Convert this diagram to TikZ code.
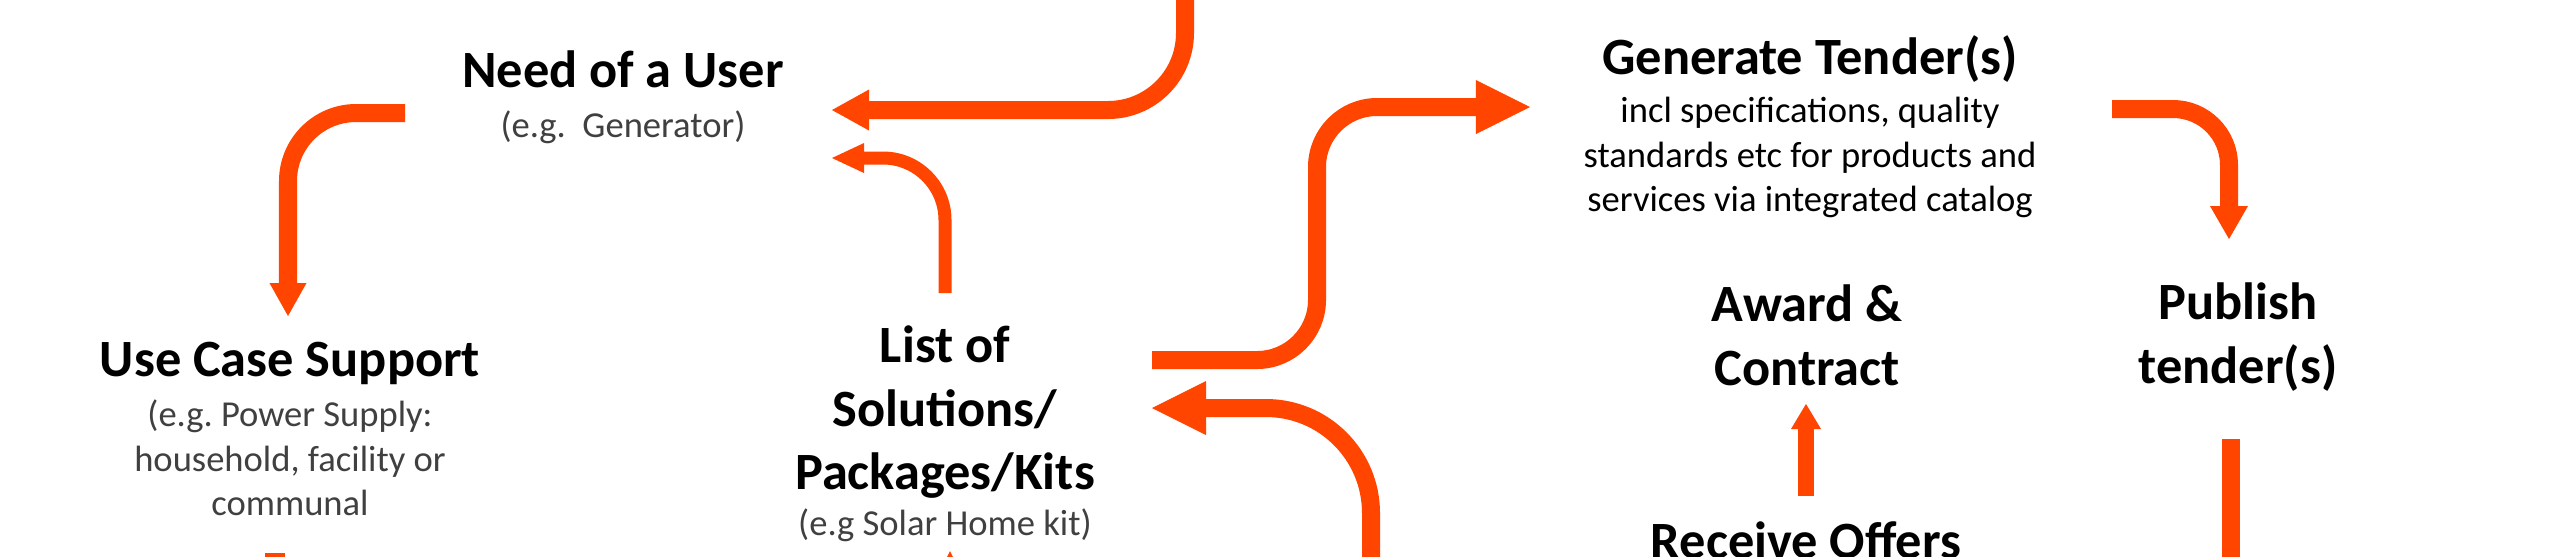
\documentclass[tikz,border=0pt]{standalone}
\usepackage{fontspec}
\setmainfont{Carlito}
\usetikzlibrary{arrows.meta}
\definecolor{flowred}{HTML}{FF4500}
\definecolor{notegray}{HTML}{404040}
\newcommand\headfont{\fontsize{14.9pt}{18.07pt}\selectfont\bfseries}
\newcommand\notefont{\fontsize{10.4pt}{12.66pt}\selectfont}

\begin{document}
\begin{tikzpicture}[x=0.01cm,y=-0.01cm,
  head/.style={font=\headfont,align=center,anchor=north,inner sep=0pt},
  note/.style={font=\notefont,text=notegray,align=center,anchor=north,inner sep=0pt},
  flow/.style={draw=flowred,line width=0.18cm}]
  \fill[white] (0,0) rectangle (2560,556);
  \useasboundingbox (0,0) rectangle (2560,556);
  \clip (0,0) rectangle (2560,556);
  % labels
  \node[head] (need) at (623,42.5) {\strut Need of a User};
  \node[note] (needx) at (623,105.9) {\strut(e.g.~~Generator)};
  \node[head] (usecase) at (290,331.5) {\strut Use Case Support};
  \node[note] (usecasex) at (290,394.9) {\strut(e.g.\ Power Supply:\\household, facility or\\communal};
  \node[head] (list) at (945,317.5) {\strut List of\\Solutions/\\Packages/Kits};
  \node[note] (listx) at (945,503.9) {\strut(e.g Solar Home kit)};
  \node[head] (tender) at (1810,29.5) {\strut Generate Tender(s)};
  \node[note,text=black] (tenderx) at (1810,90.9) {\strut incl specifications, quality\\standards etc for products and\\services via integrated catalog};
  \node[head] (award) at (1807,276.5) {\strut Award \&\\Contract};
  \node[head] (publish) at (2238,274.5) {\strut Publish\\tender(s)};
  \node[head] (offers) at (1806,513.5) {\strut Receive Offers};
  % arrow ends
  \coordinate (needL) at (405,113);
  \coordinate (usecaseT) at (288,316);
  \coordinate (topin) at (1185,-20);
  \coordinate (needR) at (832,110);
  \coordinate (listT) at (945,293);
  \coordinate (needR2) at (832,158);
  \coordinate (listR) at (1152,360);
  \coordinate (tenderL) at (1530,107);
  \coordinate (botin) at (1371,620);
  \coordinate (listR2) at (1152,408);
  \coordinate (offersT) at (1806,496);
  \coordinate (awardB) at (1806,404);
  \coordinate (tenderR) at (2112,109);
  \coordinate (publishT) at (2229,239);
  \coordinate (publishB) at (2231,439);
  \coordinate (usecaseB) at (275,553);
  \coordinate (listB) at (950,551);
  % arrows
  \draw[flow,rounded corners=0.68cm,-{Triangle[width=0.37cm,length=0.33cm,line width=0pt]}] (needL) -| (usecaseT);
  \draw[flow,rounded corners=0.77cm,-{Triangle[width=0.41cm,length=0.37cm,line width=0pt]}] (topin) |- (needR);
  \draw[flow,line width=0.13cm,rounded corners=0.62cm,-{Triangle[width=0.30cm,length=0.32cm,line width=0pt]}] (listT) |- (needR2);
  \draw[flow,rounded corners=0.6cm,-{Triangle[width=0.54cm,length=0.54cm,line width=0pt]}] (listR) -| (1317,230) |- (tenderL);
  \draw[flow,rounded corners=1.05cm,-{Triangle[width=0.54cm,length=0.54cm,line width=0pt]}] (botin) |- (listR2);
  \draw[flow,line width=0.16cm,-{Triangle[width=0.30cm,length=0.25cm,line width=0pt]}] (offersT) -- (awardB);
  \draw[flow,rounded corners=0.56cm,-{Triangle[width=0.38cm,length=0.33cm,line width=0pt]}] (tenderR) -| (publishT);
  \draw[flow] (publishB) -- ++(0,150);
  \draw[flow,line width=0.2cm] (usecaseB) -- ++(0,50);
  \draw[flow,-{Triangle[width=0.54cm,length=0.54cm,line width=0pt]}] ([yshift=-1cm]listB) -- (listB);
\end{tikzpicture}
\end{document}
